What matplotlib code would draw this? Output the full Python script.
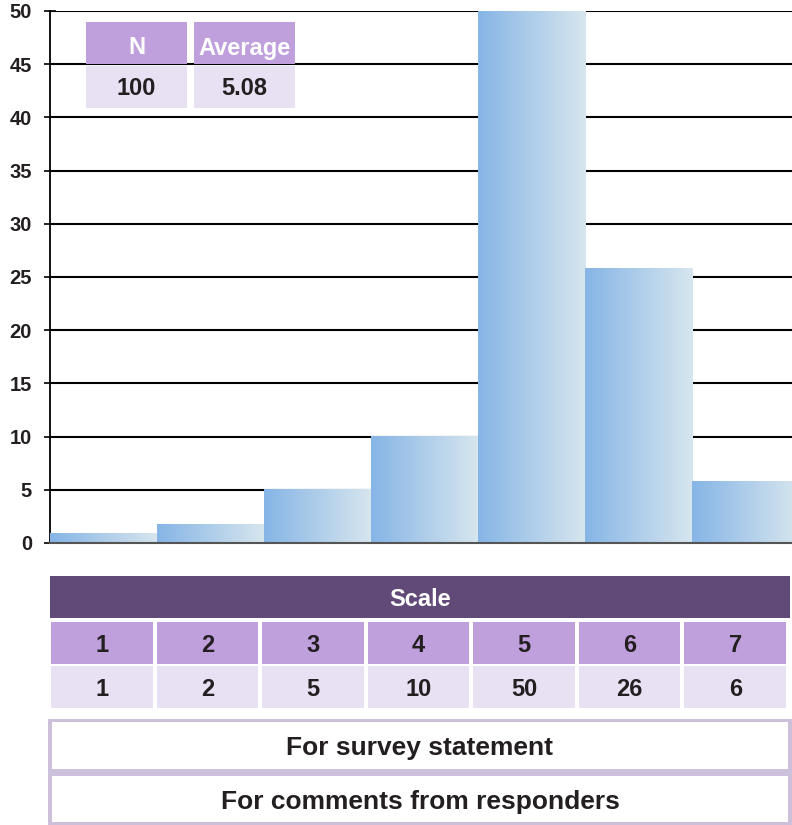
import matplotlib.pyplot as plt
import numpy as np
from matplotlib.colors import LinearSegmentedColormap
from matplotlib.patches import Rectangle

plt.rcParams['font.family'] = ['Liberation Sans', 'DejaVu Sans']
plt.rcParams['font.weight'] = 'bold'

# dados
escala = [1, 2, 3, 4, 5, 6, 7]
alturas = [0.9, 1.7, 5, 10, 50, 25.8, 5.8]   # altura das barras
contagens = ['1', '2', '5', '10', '50', '26', '6']
resumo_cab = ['N', 'Average']
resumo_val = ['100', '5.08']
linhas_texto = ['For survey statement', 'For comments from responders']

W, H = 792, 825
fig = plt.figure(figsize=(W / 100, H / 100), dpi=100)

roxo_esc = '#614a78'
roxo_med = '#bf9fdc'
roxo_cla = '#e8e0f3'
borda = '#ccc0da'
cmap = LinearSegmentedColormap.from_list('azul', ['#86b5e6', '#d7e6ee'])


def px(x0, y0, x1, y1):
    # caixa em pixels (topo-esquerda) -> coordenadas da figura
    return x0 / W, 1 - y1 / H, (x1 - x0) / W, (y1 - y0) / H


def caixa(x0, y0, x1, y1, cor, texto='', cor_txt='#231f20', tam=14, dy=3):
    l, b, w, h = px(x0, y0, x1, y1)
    fig.add_artist(Rectangle((l, b), w, h, transform=fig.transFigure,
                             facecolor=cor, edgecolor='none'))
    if texto:
        fig.text(l + w / 2, b + h / 2 - dy / H, texto, ha='center', va='center',
                 color=cor_txt, fontsize=tam, fontweight='bold')


# gráfico principal
ax = fig.add_axes(px(50, 11, 792, 543))
grad = np.linspace(0, 1, 256).reshape(1, -1)
for x, h in zip(escala, alturas):
    ax.imshow(grad, extent=[x - 0.5, x + 0.5, 0, h], aspect='auto',
              cmap=cmap, zorder=3)
ax.set_xlim(0.5, 7.43)
ax.set_ylim(0, 50)
ax.set_yticks(range(0, 51, 5))
ax.set_xticks([])
for y in range(5, 51, 5):
    ax.axhline(y, color='black', lw=1.5, zorder=1)
for s in ['top', 'right']:
    ax.spines[s].set_visible(False)
ax.spines['left'].set_linewidth(1.3)
ax.spines['bottom'].set_color('#555555')
ax.spines['bottom'].set_linewidth(1.5)
ax.spines['bottom'].set_zorder(4)
ax.tick_params(axis='y', direction='inout', length=8, width=1.2,
               labelsize=14.5, pad=9)
for t in ax.get_yticklabels():
    t.set_fontweight('bold')
    t.set_color('#231f20')

# quadro N / média
for i, (c, v) in enumerate(zip(resumo_cab, resumo_val)):
    x0 = 86 + i * 108
    caixa(x0, 22, x0 + 101, 64, roxo_med, c, 'white', 17, dy=5)
    caixa(x0, 66, x0 + 101, 108, roxo_cla, v, '#231f20', 17, dy=2)

# tabela da escala
caixa(50, 576, 790, 618, roxo_esc, 'Scale', 'white', 17)
passo = (790 - 51) / 7
for i, (e, c) in enumerate(zip(escala, contagens)):
    x0 = 51 + i * passo
    x1 = x0 + passo - 4
    caixa(x0, 622, x1, 664, roxo_med, str(e), '#231f20', 17)
    caixa(x0, 666, x1, 708, roxo_cla, c, '#231f20', 17)

# caixas de texto
caixa(48, 719, 792, 825, borda)
caixa(52, 722, 788, 769, 'white', linhas_texto[0], '#231f20', 19)
caixa(52, 776, 788, 822, 'white', linhas_texto[1], '#231f20', 19)

fig.savefig('out.png', dpi=100)
